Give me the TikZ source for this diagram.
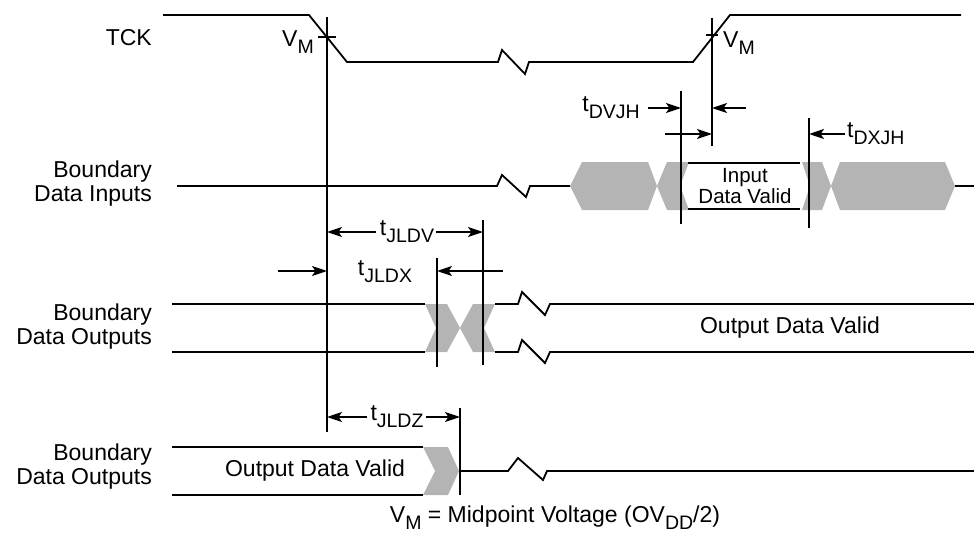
\documentclass[tikz,border=0pt]{standalone}
\usepackage{fontspec}
\setmainfont{Liberation Sans}
\usetikzlibrary{arrows.meta}
\definecolor{bandgray}{RGB}{180,180,180}
\newcommand{\lsub}[1]{\raisebox{-0.3em}{\fontsize{19.5}{19.5}\selectfont #1}}
\begin{document}
\begin{tikzpicture}[x=1pt,y=-1pt,
  wave/.style={line width=1.8pt},
  band/.style={fill=bandgray,draw=none},
  lbl/.style={font=\fontsize{23}{24}\selectfont,inner sep=0pt},
  small/.style={font=\fontsize{20.5}{18}\selectfont,inner sep=0pt},
  arr/.style={line width=1.8pt,-{Stealth[length=15pt,width=10pt,inset=3.5pt]}}]
\useasboundingbox (0,0) rectangle (974,535);

% marker coordinates
\coordinate (m1) at (327,0);
\coordinate (m2) at (712,0);
\coordinate (m3) at (681,0);
\coordinate (m4) at (809,0);
\coordinate (m5) at (483,0);
\coordinate (m6) at (437,0);
\coordinate (m7) at (460,0);

% labels
\node[lbl,anchor=east] (tck) at (152,38) {TCK};
\node[lbl,anchor=east,align=right] (bdi) at (152,184) {Boundary\\Data Inputs};
\node[lbl,anchor=east,align=right] (bdo1) at (152,327) {Boundary\\Data Outputs};
\node[lbl,anchor=east,align=right] (bdo2) at (152,467) {Boundary\\Data Outputs};

% TCK waveform
\draw[wave] (163,15) -- (309,15) -- (347,62) -- (498,62) -- (502,50) -- (525,74) -- (529,62) -- (693,62) -- (730,15) -- (961,15);
\draw[wave] (m1 |- 0,17) -- (m1 |- 0,432);
\draw[wave] (318,37) -- (336,37);
\node[lbl,anchor=east] (vm1) at (314,42) {V\lsub{M}};
\draw[wave] (m2 |- 0,18) -- (m2 |- 0,146);
\draw[wave] (706,35) -- (718,35);
\node[lbl,anchor=west] (vm2) at (723,43) {V\lsub{M}};

% Boundary data inputs
\draw[wave] (177,186) -- (497,186) -- (502,175) -- (526,197) -- (530,186) -- (570,186);
\fill[band] (570,186) -- (582,162) -- (648,162) -- (657,186) -- (648,210) -- (582,210) -- cycle;
\fill[band] (657,186) -- (667,162) -- (689,162) -- (680,186) -- (689,210) -- (667,210) -- cycle;
\fill[band] (802,162) -- (822,162) -- (831,186) -- (822,210) -- (802,210) -- (810,186) -- cycle;
\fill[band] (831,186) -- (840,162) -- (945,162) -- (955,186) -- (945,210) -- (840,210) -- cycle;
\draw[wave] (955,186) -- (974,186);
\draw[wave] (688,163) -- (800,163);
\draw[wave] (688,209) -- (800,209);
\node[small,align=center] (idv) at (745,186) {Input\\Data Valid};
\draw[wave] (m3 |- 0,91) -- (m3 |- 0,224);
\draw[wave] (m4 |- 0,118) -- (m4 |- 0,228);

% tDVJH / tDXJH
\node[lbl,anchor=east] (tdvjh) at (640,108) {t\lsub{DVJH}};
\draw[arr] ([xshift=8pt]tdvjh.east) -- (tdvjh.east -| m3);
\coordinate (h1) at (746,108);
\draw[arr] (h1) -- (h1 -| m2);
\coordinate (h2) at (665,134);
\draw[arr] (h2) -- (h2 -| m2);
\node[lbl,anchor=west] (tdxjh) at (847,134) {t\lsub{DXJH}};
\draw[arr] ([xshift=-2pt]tdxjh.west) -- (tdxjh.west -| m4);

% Boundary data outputs 1
\draw[wave] (172,304) -- (425,304);
\draw[wave] (172,352) -- (425,352);
\fill[band] (425,304) -- (447,304) -- (460,328) -- (447,352) -- (425,352) -- (436,328) -- cycle;
\fill[band] (473,304) -- (495,304) -- (484,328) -- (495,352) -- (473,352) -- (460,328) -- cycle;
\draw[wave] (495,304) -- (518,304) -- (522,292) -- (545,315) -- (550,304) -- (974,304);
\draw[wave] (495,352) -- (518,352) -- (522,340) -- (545,363) -- (550,352) -- (974,352);
\node[lbl] (odv1) at (790,328) {Output Data Valid};
\draw[wave] (m5 |- 0,220) -- (m5 |- 0,365);
\draw[wave] (m6 |- 0,258) -- (m6 |- 0,367);

% tJLDV / tJLDX
\node[lbl] (tjldv) at (407,232) {t\lsub{JLDV}};
\draw[arr] ([xshift=-4pt]tjldv.west) -- (tjldv.west -| m1);
\draw[arr] ([xshift=2pt]tjldv.east) -- (tjldv.east -| m5);
\node[lbl] (tjldx) at (385,272) {t\lsub{JLDX}};
\coordinate (x1) at (278,271);
\draw[arr] (x1) -- (x1 -| m1);
\coordinate (x2) at (503,271);
\draw[arr] (x2) -- (x2 -| m6);

% Boundary data outputs 2
\draw[wave] (172,447) -- (423,447);
\draw[wave] (172,495) -- (423,495);
\fill[band] (423,447) -- (448,447) -- (459,471) -- (448,495) -- (423,495) -- (435,471) -- cycle;
\draw[wave] (459,471) -- (508,471) -- (518,458) -- (543,480) -- (547,471) -- (974,471);
\node[lbl] (odv2) at (315,471) {Output Data Valid};
\draw[wave] (m7 |- 0,408) -- (m7 |- 0,495);
\node[lbl] (tjldz) at (397,417) {t\lsub{JLDZ}};
\draw[arr] ([xshift=-3pt]tjldz.west) -- (tjldz.west -| m1);
\draw[arr] ([xshift=2pt]tjldz.east) -- (tjldz.east -| m7);

% footnote
\node[lbl] (note) at (555,518) {V\lsub{M} = Midpoint Voltage (OV\lsub{DD}/2)};
\end{tikzpicture}
\end{document}
